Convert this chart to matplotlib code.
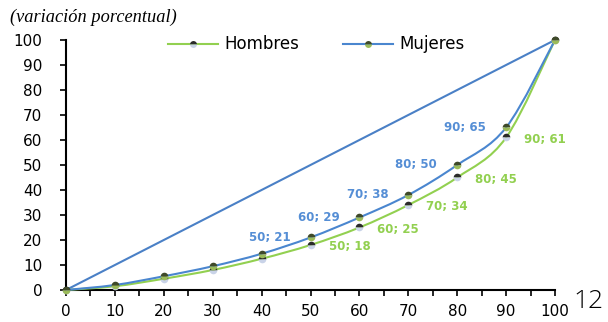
"""Curva de concentración por sexo (variación porcentual)."""

import matplotlib
matplotlib.use("Agg")
import matplotlib.pyplot as plt
import numpy as np
from matplotlib.path import Path
from matplotlib.patches import PathPatch
from matplotlib.lines import Line2D


PCT = [0, 10, 20, 30, 40, 50, 60, 70, 80, 90, 100]
HOMBRES = [0, 1.5, 4.5, 8, 12.5, 18, 25, 34, 45, 61, 100]
MUJERES = [0, 2, 5.5, 9.5, 14.5, 21, 29, 38, 50, 65, 100]
LABELED = [50, 60, 70, 80, 90]

GREEN = "#92d050"
BLUE = "#4a86cf"
LINE_BLUE = "#4a80c6"
LABEL_BLUE = "#558ed5"


def smooth_path(xs, ys):
    """Bezier path through the points, like a spreadsheet smoothed line."""
    pts = np.column_stack([xs, ys]).astype(float)
    verts = [pts[0]]
    codes = [Path.MOVETO]
    n = len(pts)
    for i in range(n - 1):
        p0 = pts[i - 1] if i > 0 else pts[i]
        p1 = pts[i]
        p2 = pts[i + 1]
        p3 = pts[i + 2] if i + 2 < n else pts[i + 1]
        c1 = p1 + (p2 - p0) / 6.0
        c2 = p2 - (p3 - p1) / 6.0
        verts += [c1, c2, p2]
        codes += [Path.CURVE4] * 3
    return Path(verts, codes)


fig = plt.figure(figsize=(6.08, 3.22), dpi=100)
ax = fig.add_axes([0.1086, 0.0994, 0.8042, 0.7764])

# Equality line
ax.plot([PCT[0], PCT[-1]], [PCT[0], PCT[-1]], color=LINE_BLUE, lw=1.5,
        clip_on=False, zorder=2)

# Smoothed curves
ax.add_patch(PathPatch(smooth_path(PCT, HOMBRES), facecolor="none",
                       edgecolor=GREEN, lw=1.5, clip_on=False, zorder=3))
ax.add_patch(PathPatch(smooth_path(PCT, MUJERES), facecolor="none",
                       edgecolor=BLUE, lw=1.5, clip_on=False, zorder=3))

# Markers
ax.plot(PCT, HOMBRES, ls="none", marker="o", ms=5.5,
        fillstyle="top", markerfacecolor="#2b2b2b",
        markerfacecoloralt="#c9d3e8", markeredgewidth=0,
        clip_on=False, zorder=4)
ax.plot(PCT, MUJERES, ls="none", marker="o", ms=5.5,
        fillstyle="top", markerfacecolor="#3f4a2a",
        markerfacecoloralt="#9bbb59", markeredgewidth=0,
        clip_on=False, zorder=4)

# Data labels
for x, h, m in zip(PCT, HOMBRES, MUJERES):
    if x not in LABELED:
        continue
    ax.annotate(f"{x}; {m:g}", (x, m), xytext=(-20, 0),
                textcoords="offset pixels", ha="right", va="center",
                color=LABEL_BLUE, fontsize=8.5, fontweight="bold")
    ax.annotate(f"{x}; {h:g}", (x, h), xytext=(18, -2),
                textcoords="offset pixels", ha="left", va="center",
                color=GREEN, fontsize=8.5, fontweight="bold")

ax.set_xlim(0, 100)
ax.set_ylim(0, 100)
ax.set_xticks(range(0, 101, 10))
ax.set_xticks(range(5, 100, 10), minor=True)
ax.set_yticks(range(0, 101, 10))
ax.tick_params(axis="both", labelsize=11, direction="out", length=4,
               width=1.2, color="black")
ax.tick_params(axis="x", which="minor", length=4, width=1.2)
ax.tick_params(axis="x", pad=6)
ax.tick_params(axis="y", pad=13)
for side in ["top", "right"]:
    ax.spines[side].set_visible(False)
for side in ["left", "bottom"]:
    ax.spines[side].set_linewidth(1.5)
ax.patch.set_alpha(0)

# Legend handles: line with marker
h_handle = Line2D([], [], color=GREEN, lw=1.5, marker="o", ms=5,
                  fillstyle="top", markerfacecolor="#2b2b2b",
                  markerfacecoloralt="#c9d3e8", markeredgewidth=0)
m_handle = Line2D([], [], color=BLUE, lw=1.5, marker="o", ms=5,
                  fillstyle="top", markerfacecolor="#3f4a2a",
                  markerfacecoloralt="#9bbb59", markeredgewidth=0)
fig.legend([h_handle, m_handle], ["Hombres", "Mujeres"], ncol=2,
           loc="center", bbox_to_anchor=(0.52, 0.862), frameon=False,
           fontsize=12, handlelength=3.0, columnspacing=2.6,
           handletextpad=0.4)

fig.text(0.016, 0.945, "(variación porcentual)", fontsize=13.2,
         family="Liberation Serif", style="italic", va="center")
fig.text(0.944, 0.063, "12", fontsize=19, family="Open Sans",
         fontweight="light", va="center", ha="left")

plt.savefig("out.png", dpi=100)
